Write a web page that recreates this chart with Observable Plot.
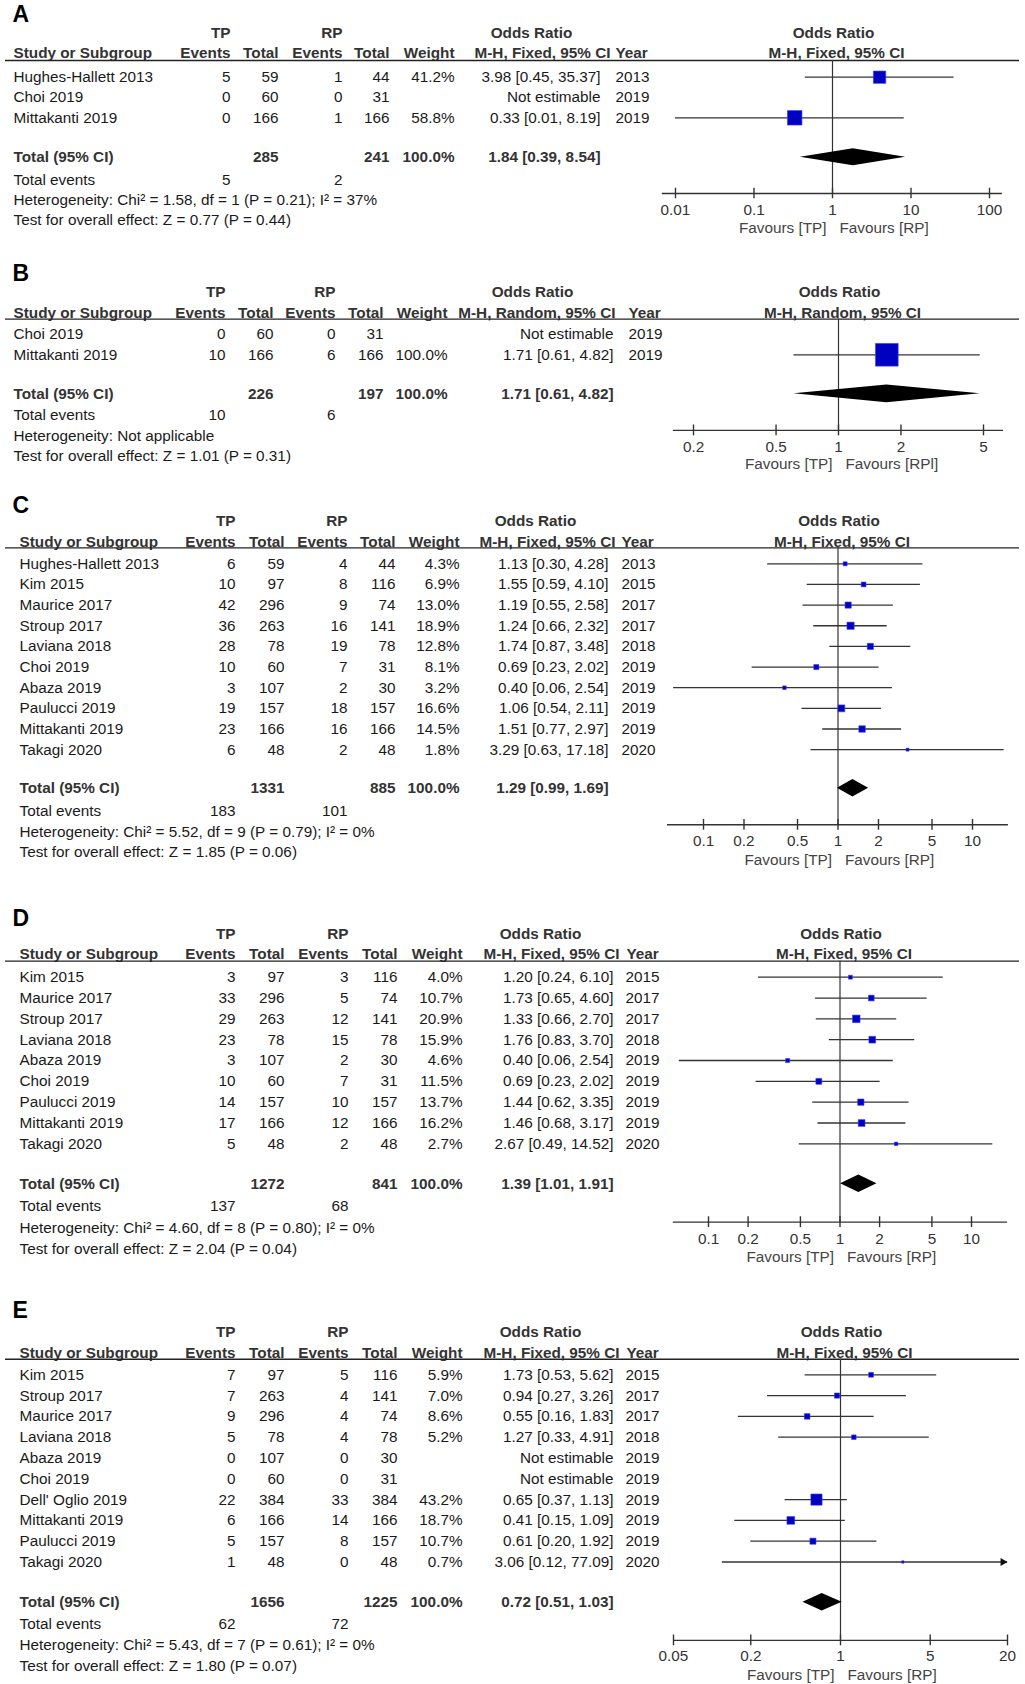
<!DOCTYPE html>
<html><head><meta charset="utf-8">
<script src="https://cdn.jsdelivr.net/npm/d3@7"></script>
<script src="https://cdn.jsdelivr.net/npm/@observablehq/plot@0.6"></script>
<style>
html,body{margin:0;padding:0;background:#fff;}
#chart svg{display:block;}
</style></head><body><div id="chart"></div>
<script>
// ---------------- Panel A ----------------
const studiesA = ["Hughes-Hallett 2013", "Choi 2019", "Mittakanti 2019"];
const tpEventsA = [5, 0, 0];
const tpTotalA = [59, 60, 166];
const rpEventsA = [1, 0, 1];
const rpTotalA = [44, 31, 166];
const weightA = [41.2, null, 58.8];
const orA = [3.98, null, 0.33];
const lowerA = [0.45, null, 0.01];
const upperA = [35.37, null, 8.19];
const yearA = [2013, 2019, 2019];
const totalsA = [285, 241, 100.0];
const pooledA = [1.84, 0.39, 8.54];
const totalEventsA = [5, 2];
const hetA = "Heterogeneity: Chi² = 1.58, df = 1 (P = 0.21); I² = 37%";
const testA = "Test for overall effect: Z = 0.77 (P = 0.44)";
const ticksA = [0.01, 0.1, 1, 10, 100];
const methodA = "M-H, Fixed, 95% CI";
const favoursA = ["Favours [TP]", "Favours [RP]"];

// ---------------- Panel B ----------------
const studiesB = ["Choi 2019", "Mittakanti 2019"];
const tpEventsB = [0, 10];
const tpTotalB = [60, 166];
const rpEventsB = [0, 6];
const rpTotalB = [31, 166];
const weightB = [null, 100.0];
const orB = [null, 1.71];
const lowerB = [null, 0.61];
const upperB = [null, 4.82];
const yearB = [2019, 2019];
const totalsB = [226, 197, 100.0];
const pooledB = [1.71, 0.61, 4.82];
const totalEventsB = [10, 6];
const hetB = "Heterogeneity: Not applicable";
const testB = "Test for overall effect: Z = 1.01 (P = 0.31)";
const ticksB = [0.2, 0.5, 1, 2, 5];
const methodB = "M-H, Random, 95% CI";
const favoursB = ["Favours [TP]", "Favours [RPl]"];

// ---------------- Panel C ----------------
const studiesC = ["Hughes-Hallett 2013", "Kim 2015", "Maurice 2017", "Stroup 2017", "Laviana 2018", "Choi 2019", "Abaza 2019", "Paulucci 2019", "Mittakanti 2019", "Takagi 2020"];
const tpEventsC = [6, 10, 42, 36, 28, 10, 3, 19, 23, 6];
const tpTotalC = [59, 97, 296, 263, 78, 60, 107, 157, 166, 48];
const rpEventsC = [4, 8, 9, 16, 19, 7, 2, 18, 16, 2];
const rpTotalC = [44, 116, 74, 141, 78, 31, 30, 157, 166, 48];
const weightC = [4.3, 6.9, 13.0, 18.9, 12.8, 8.1, 3.2, 16.6, 14.5, 1.8];
const orC = [1.13, 1.55, 1.19, 1.24, 1.74, 0.69, 0.40, 1.06, 1.51, 3.29];
const lowerC = [0.30, 0.59, 0.55, 0.66, 0.87, 0.23, 0.06, 0.54, 0.77, 0.63];
const upperC = [4.28, 4.10, 2.58, 2.32, 3.48, 2.02, 2.54, 2.11, 2.97, 17.18];
const yearC = [2013, 2015, 2017, 2017, 2018, 2019, 2019, 2019, 2019, 2020];
const totalsC = [1331, 885, 100.0];
const pooledC = [1.29, 0.99, 1.69];
const totalEventsC = [183, 101];
const hetC = "Heterogeneity: Chi² = 5.52, df = 9 (P = 0.79); I² = 0%";
const testC = "Test for overall effect: Z = 1.85 (P = 0.06)";
const ticksC = [0.1, 0.2, 0.5, 1, 2, 5, 10];
const methodC = "M-H, Fixed, 95% CI";
const favoursC = ["Favours [TP]", "Favours [RP]"];

// ---------------- Panel D ----------------
const studiesD = ["Kim 2015", "Maurice 2017", "Stroup 2017", "Laviana 2018", "Abaza 2019", "Choi 2019", "Paulucci 2019", "Mittakanti 2019", "Takagi 2020"];
const tpEventsD = [3, 33, 29, 23, 3, 10, 14, 17, 5];
const tpTotalD = [97, 296, 263, 78, 107, 60, 157, 166, 48];
const rpEventsD = [3, 5, 12, 15, 2, 7, 10, 12, 2];
const rpTotalD = [116, 74, 141, 78, 30, 31, 157, 166, 48];
const weightD = [4.0, 10.7, 20.9, 15.9, 4.6, 11.5, 13.7, 16.2, 2.7];
const orD = [1.20, 1.73, 1.33, 1.76, 0.40, 0.69, 1.44, 1.46, 2.67];
const lowerD = [0.24, 0.65, 0.66, 0.83, 0.06, 0.23, 0.62, 0.68, 0.49];
const upperD = [6.10, 4.60, 2.70, 3.70, 2.54, 2.02, 3.35, 3.17, 14.52];
const yearD = [2015, 2017, 2017, 2018, 2019, 2019, 2019, 2019, 2020];
const totalsD = [1272, 841, 100.0];
const pooledD = [1.39, 1.01, 1.91];
const totalEventsD = [137, 68];
const hetD = "Heterogeneity: Chi² = 4.60, df = 8 (P = 0.80); I² = 0%";
const testD = "Test for overall effect: Z = 2.04 (P = 0.04)";
const ticksD = [0.1, 0.2, 0.5, 1, 2, 5, 10];
const methodD = "M-H, Fixed, 95% CI";
const favoursD = ["Favours [TP]", "Favours [RP]"];

// ---------------- Panel E ----------------
const studiesE = ["Kim 2015", "Stroup 2017", "Maurice 2017", "Laviana 2018", "Abaza 2019", "Choi 2019", "Dell' Oglio 2019", "Mittakanti 2019", "Paulucci 2019", "Takagi 2020"];
const tpEventsE = [7, 7, 9, 5, 0, 0, 22, 6, 5, 1];
const tpTotalE = [97, 263, 296, 78, 107, 60, 384, 166, 157, 48];
const rpEventsE = [5, 4, 4, 4, 0, 0, 33, 14, 8, 0];
const rpTotalE = [116, 141, 74, 78, 30, 31, 384, 166, 157, 48];
const weightE = [5.9, 7.0, 8.6, 5.2, null, null, 43.2, 18.7, 10.7, 0.7];
const orE = [1.73, 0.94, 0.55, 1.27, null, null, 0.65, 0.41, 0.61, 3.06];
const lowerE = [0.53, 0.27, 0.16, 0.33, null, null, 0.37, 0.15, 0.20, 0.12];
const upperE = [5.62, 3.26, 1.83, 4.91, null, null, 1.13, 1.09, 1.92, 77.09];
const yearE = [2015, 2017, 2017, 2018, 2019, 2019, 2019, 2019, 2019, 2020];
const totalsE = [1656, 1225, 100.0];
const pooledE = [0.72, 0.51, 1.03];
const totalEventsE = [62, 72];
const hetE = "Heterogeneity: Chi² = 5.43, df = 7 (P = 0.61); I² = 0%";
const testE = "Test for overall effect: Z = 1.80 (P = 0.07)";
const ticksE = [0.05, 0.2, 1, 5, 20];
const methodE = "M-H, Fixed, 95% CI";
const favoursE = ["Favours [TP]", "Favours [RP]"];

// ---------------- layout (pixels / row units) ----------------
const layouts = {
  A: {top: 0, h: 245, first: 76.7, pitch: 20.3, xRange: [675, 989], axisExt: [0.0068, 146], rRange: [0.6, 10.5],
      rows: {letter: -3.09, h1: -2.15, h2: -1.17, line: -0.82, total: 3.94, events: 5.05, het: 6.04, test: 7.06, axis: 5.73, tick: 6.57, fav: 7.45},
      cols: {study: 13, tpE: 230, tpT: 278, rpE: 342, rpT: 389, w: 454, or: 600, yr: 615, orHead: 531, mhRight: 610, yrHead: 615}},
  B: {top: 245, h: 237, first: 333.3, pitch: 21, xRange: [693, 983], axisExt: [0.16, 6.25], rRange: [0.6, 12.8],
      rows: {letter: -2.87, h1: -1.98, h2: -0.98, line: -0.7, total: 2.86, events: 3.89, het: 4.87, test: 5.84, axis: 4.6, tick: 5.4, fav: 6.19},
      cols: {study: 13, tpE: 225, tpT: 273, rpE: 335, rpT: 383, w: 447, or: 613, yr: 628, orHead: 532, mhRight: 615, yrHead: 628}},
  C: {top: 482, h: 410, first: 563.3, pitch: 20.65, xRange: [703, 972], axisExt: [0.054, 18.5], rRange: [0.6, 8.6],
      rows: {letter: -2.82, h1: -2.05, h2: -1.05, line: -0.77, total: 10.87, events: 11.98, het: 13.0, test: 13.97, axis: 12.64, tick: 13.45, fav: 14.37},
      cols: {study: 19, tpE: 235, tpT: 284, rpE: 347, rpT: 395, w: 459, or: 608, yr: 621, orHead: 535, mhRight: 615, yrHead: 621}},
  D: {top: 892, h: 396, first: 976.7, pitch: 20.83, xRange: [708, 971], axisExt: [0.054, 18.8], rRange: [0.6, 8.6],
      rows: {letter: -2.82, h1: -2.08, h2: -1.12, line: -0.77, total: 9.92, events: 11.01, het: 12.03, test: 13.04, axis: 11.76, tick: 12.56, fav: 13.44},
      cols: {study: 19, tpE: 235, tpT: 284, rpE: 348, rpT: 397, w: 462, or: 613, yr: 625, orHead: 540, mhRight: 619, yrHead: 626}},
  E: {top: 1288, h: 396, first: 1374.3, pitch: 20.8, xRange: [673, 1007], axisExt: [0.05, 20], rRange: [0.6, 9.3],
      rows: {letter: -3.09, h1: -2.05, h2: -1.06, line: -0.75, total: 10.93, events: 12.0, het: 13.01, test: 14.02, axis: 12.77, tick: 13.54, fav: 14.45},
      cols: {study: 19, tpE: 235, tpT: 284, rpE: 348, rpT: 397, w: 462, or: 613, yr: 625, orHead: 540, mhRight: 619, yrHead: 626}}
};

const panels = [
  {key: "A", studies: studiesA, tpE: tpEventsA, tpT: tpTotalA, rpE: rpEventsA, rpT: rpTotalA, w: weightA, or: orA, lo: lowerA, hi: upperA, yr: yearA, totals: totalsA, pooled: pooledA, tev: totalEventsA, het: hetA, test: testA, ticks: ticksA, method: methodA, fav: favoursA},
  {key: "B", studies: studiesB, tpE: tpEventsB, tpT: tpTotalB, rpE: rpEventsB, rpT: rpTotalB, w: weightB, or: orB, lo: lowerB, hi: upperB, yr: yearB, totals: totalsB, pooled: pooledB, tev: totalEventsB, het: hetB, test: testB, ticks: ticksB, method: methodB, fav: favoursB},
  {key: "C", studies: studiesC, tpE: tpEventsC, tpT: tpTotalC, rpE: rpEventsC, rpT: rpTotalC, w: weightC, or: orC, lo: lowerC, hi: upperC, yr: yearC, totals: totalsC, pooled: pooledC, tev: totalEventsC, het: hetC, test: testC, ticks: ticksC, method: methodC, fav: favoursC},
  {key: "D", studies: studiesD, tpE: tpEventsD, tpT: tpTotalD, rpE: rpEventsD, rpT: rpTotalD, w: weightD, or: orD, lo: lowerD, hi: upperD, yr: yearD, totals: totalsD, pooled: pooledD, tev: totalEventsD, het: hetD, test: testD, ticks: ticksD, method: methodD, fav: favoursD},
  {key: "E", studies: studiesE, tpE: tpEventsE, tpT: tpTotalE, rpE: rpEventsE, rpT: rpTotalE, w: weightE, or: orE, lo: lowerE, hi: upperE, yr: yearE, totals: totalsE, pooled: pooledE, tev: totalEventsE, het: hetE, test: testE, ticks: ticksE, method: methodE, fav: favoursE}
];

const fmtCI = (o, l, h) => `${o.toFixed(2)} [${l.toFixed(2)}, ${h.toFixed(2)}]`;
const TXT = "#1a1a1a", HDR = "#333333", LINE = "#333333";

function buildPanel(d) {
  const L = layouts[d.key], R = L.rows, C = L.cols;
  const rows = d.studies.map((s, i) => ({i, s, tpE: d.tpE[i], tpT: d.tpT[i], rpE: d.rpE[i], rpT: d.rpT[i], w: d.w[i], or: d.or[i], lo: d.lo[i], hi: d.hi[i], yr: d.yr[i]}));
  const est = rows.filter(r => r.or != null);
  const [xmin, xmax] = L.axisExt;
  const cell = (data, text, dx, anchor, y, extra = {}) =>
    Plot.text(data, {frameAnchor: "left", y, text, dx, textAnchor: anchor, fill: TXT, ...extra});
  const one = (label, row, dx, anchor, extra = {}) =>
    Plot.text([label], {frameAnchor: "left", y: () => row, text: t => t, dx, textAnchor: anchor, fill: TXT, ...extra});
  const bold = {fontWeight: "bold", fill: HDR};
  const [pOr, pLo, pHi] = d.pooled;
  const diamond = [
    {y: R.total - 0.42, x1: pOr, x2: pOr},
    {y: R.total, x1: pLo, x2: pHi},
    {y: R.total + 0.42, x1: pOr, x2: pOr}
  ];
  const arrows = est.filter(r => r.hi > xmax);

  return Plot.plot({
    width: 1025,
    height: L.h,
    margin: 0,
    style: {fontFamily: "'Liberation Sans', Arial, Helvetica, sans-serif", fontSize: "15.3px", background: "#fff"},
    x: {type: "log", domain: [d.ticks[0], d.ticks[d.ticks.length - 1]], range: L.xRange, axis: null},
    y: {type: "linear", domain: [0, 1], range: [L.first - L.top, L.first - L.top + L.pitch], axis: null},
    r: {type: "sqrt", domain: [0, 100], range: L.rRange},
    marks: [
      // panel letter
      one(d.key, R.letter, 12, "start", {fontSize: 23, fontWeight: "bold", fill: "#000"}),
      // header row 1
      one("TP", R.h1, C.tpE, "end", bold),
      one("RP", R.h1, C.rpE, "end", bold),
      one("Odds Ratio", R.h1, C.orHead, "middle", bold),
      Plot.text(["Odds Ratio"], {x: () => 1, y: () => R.h1, text: t => t, dx: 1, ...bold}),
      // header row 2
      one("Study or Subgroup", R.h2, C.study, "start", bold),
      one("Events", R.h2, C.tpE, "end", bold),
      one("Total", R.h2, C.tpT, "end", bold),
      one("Events", R.h2, C.rpE, "end", bold),
      one("Total", R.h2, C.rpT, "end", bold),
      one("Weight", R.h2, C.w, "end", bold),
      one(d.method, R.h2, C.mhRight, "end", bold),
      one("Year", R.h2, C.yrHead, "start", bold),
      Plot.text([d.method], {x: () => 1, y: () => R.h2, text: t => t, dx: 4, ...bold}),
      Plot.ruleY([R.line], {y: v => v, insetLeft: 5, insetRight: 6, stroke: "#222", strokeWidth: 1.4}),
      // study rows
      cell(rows, "s", C.study, "start", "i"),
      cell(rows, r => String(r.tpE), C.tpE, "end", "i"),
      cell(rows, r => String(r.tpT), C.tpT, "end", "i"),
      cell(rows, r => String(r.rpE), C.rpE, "end", "i"),
      cell(rows, r => String(r.rpT), C.rpT, "end", "i"),
      cell(rows.filter(r => r.w != null), r => r.w.toFixed(1) + "%", C.w, "end", "i"),
      cell(rows, r => r.or == null ? "Not estimable" : fmtCI(r.or, r.lo, r.hi), C.or, "end", "i"),
      cell(rows, r => String(r.yr), C.yr, "start", "i"),
      // total row
      one("Total (95% CI)", R.total, C.study, "start", bold),
      one(String(d.totals[0]), R.total, C.tpT, "end", bold),
      one(String(d.totals[1]), R.total, C.rpT, "end", bold),
      one(d.totals[2].toFixed(1) + "%", R.total, C.w, "end", bold),
      one(fmtCI(pOr, pLo, pHi), R.total, C.or, "end", bold),
      // total events, heterogeneity, overall effect
      one("Total events", R.events, C.study, "start"),
      one(String(d.tev[0]), R.events, C.tpE, "end"),
      one(String(d.tev[1]), R.events, C.rpE, "end"),
      one(d.het, R.het, C.study, "start"),
      one(d.test, R.test, C.study, "start"),
      // forest: line of no effect
      Plot.ruleX([1], {x: v => v, y1: () => R.line, y2: () => R.axis, stroke: LINE, strokeWidth: 1.2}),
      // confidence intervals
      Plot.ruleY(est, {y: "i", x1: r => Math.max(r.lo, xmin), x2: r => Math.min(r.hi, xmax), stroke: LINE, strokeWidth: 1.3}),
      Plot.dot(arrows, {x: () => xmax, y: "i", symbol: "triangle", rotate: 90, r: 3, dx: -4.6, fill: "#111", stroke: "none"}),
      // study estimates
      Plot.dot(est, {x: "or", y: "i", r: "w", symbol: "square", fill: "#0000c0", stroke: "#3a3aff", strokeWidth: 0.6}),
      // pooled diamond
      Plot.areaX(diamond, {y: "y", x1: "x1", x2: "x2", fill: "#000", curve: "linear"}),
      // axis
      Plot.ruleY([R.axis], {y: v => v, x1: () => xmin, x2: () => xmax, stroke: LINE, strokeWidth: 1.4}),
      Plot.ruleX(d.ticks, {x: v => v, y1: () => R.axis - 0.26, y2: () => R.axis + 0.26, stroke: LINE, strokeWidth: 1.4}),
      Plot.text(d.ticks, {x: v => v, y: () => R.tick, text: v => String(v), fill: HDR}),
      Plot.text([d.fav[0]], {x: () => 1, y: () => R.fav, text: t => t, textAnchor: "end", dx: -6, fill: "#444"}),
      Plot.text([d.fav[1]], {x: () => 1, y: () => R.fav, text: t => t, textAnchor: "start", dx: 7, fill: "#444"})
    ]
  });
}

const root = document.getElementById("chart");
for (const p of panels) root.appendChild(buildPanel(p));
</script>
</body></html>
